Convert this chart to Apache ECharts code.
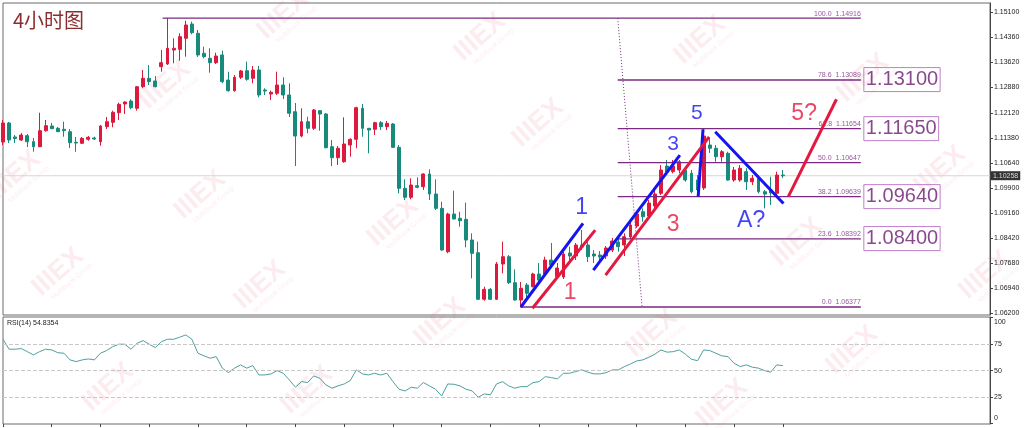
<!DOCTYPE html>
<html><head><meta charset="utf-8">
<script src="https://cdn.jsdelivr.net/npm/echarts@6/dist/echarts.min.js"></script>
<style>html,body{margin:0;padding:0;background:#fff}#c{width:1024px;height:428px}</style>
</head><body><div id="c"></div>
<script>
const opens = [
1.11256,1.11818,1.11404,1.11315,1.11442,1.11265,1.11117,1.11590,1.11729,1.11661,
1.11632,1.11561,1.11247,1.11218,1.11336,1.11374,1.11265,1.11709,1.11839,1.12122,
1.12380,1.12468,1.12253,1.12891,1.13140,1.13060,1.13483,1.13563,1.13976,1.13997,
1.14322,1.14745,1.14470,1.13879,1.13731,1.13601,1.13829,1.13089,1.12773,1.13169,
1.13364,1.13140,1.13385,1.12794,1.12675,1.12696,1.12942,1.12646,1.12152,1.11433,
1.11856,1.11661,1.12182,1.12084,1.11117,1.10792,1.10673,1.11167,1.11336,1.12253,
1.11661,1.11632,1.11827,1.11709,1.11788,1.11099,1.09887,1.09621,1.09964,1.09934,
1.10310,1.09718,1.09295,1.08012,1.09127,1.09000,1.08970,1.08358,1.07983,1.06605,
1.06900,1.06605,1.07649,1.07864,1.07096,1.06584,1.07028,1.06977,1.07353,1.07353,
1.07767,1.07273,1.07264,1.07974,1.07885,1.08210,1.08210,1.07944,1.07915,1.07885,
1.08062,1.08299,1.08210,1.08447,1.08772,1.09195,1.09068,1.09364,1.09739,1.10546,
1.10378,1.10428,1.10428,1.10330,1.10132,1.09896,1.11167,1.11070,1.10821,1.10922,
1.10132,1.10132,1.10378,1.10082,1.10183,1.09786,1.09837,1.09739,1.10280];
const closes = [
1.11818,1.11315,1.11360,1.11463,1.11265,1.11117,1.11590,1.11738,1.11649,1.11561,
1.11590,1.11235,1.11226,1.11365,1.11395,1.11345,1.11729,1.11856,1.12134,1.12371,
1.12439,1.12270,1.12891,1.13140,1.13039,1.12891,1.13601,1.14027,1.14027,1.14370,
1.14716,1.14488,1.13829,1.13778,1.13601,1.13799,1.13039,1.12773,1.13169,1.13356,
1.13110,1.13385,1.12646,1.12764,1.12726,1.12942,1.12646,1.12105,1.11433,1.11856,
1.11661,1.12202,1.12084,1.11087,1.10792,1.11070,1.11197,1.11336,1.12270,1.11661,
1.11611,1.11827,1.11709,1.11809,1.11099,1.09887,1.09621,1.09985,1.09917,1.10310,
1.09718,1.09295,1.08062,1.09127,1.08979,1.08929,1.08358,1.07965,1.06605,1.06900,
1.06605,1.07649,1.07864,1.07096,1.06584,1.06930,1.06782,1.07353,1.07175,1.07767,
1.07619,1.07530,1.07944,1.07885,1.08210,1.08151,1.07864,1.07885,1.07855,1.08122,
1.08329,1.08160,1.08456,1.08802,1.09127,1.09047,1.09452,1.09718,1.10428,1.10378,
1.10546,1.10673,1.10132,1.09786,1.09837,1.11433,1.11070,1.10821,1.10969,1.10132,
1.10428,1.10478,1.10082,1.10183,1.09786,1.09718,1.09748,1.10280,1.10258];
const lows = [
1.11167,1.11226,1.11226,1.11286,1.11108,1.10969,1.11108,1.11561,1.11640,1.11552,
1.11413,1.11079,1.10969,1.11197,1.11294,1.11315,1.11147,1.11640,1.11691,1.11907,
1.12084,1.12223,1.12182,1.12844,1.12942,1.12874,1.13335,1.13533,1.13583,1.13660,
1.13778,1.14441,1.13770,1.13731,1.13305,1.13563,1.12992,1.12743,1.12743,1.13119,
1.13069,1.12992,1.12578,1.12646,1.12498,1.12646,1.12528,1.11995,1.10546,1.11395,
1.11513,1.11611,1.11590,1.11070,1.10546,1.10576,1.10644,1.10821,1.11070,1.11413,
1.10922,1.11463,1.11611,1.11611,1.11079,1.09739,1.09541,1.09562,1.09887,1.09837,
1.09541,1.09245,1.08042,1.07965,1.08970,1.08751,1.08142,1.07226,1.06584,1.06563,
1.06584,1.06584,1.07373,1.07057,1.06563,1.06377,1.06643,1.06960,1.07087,1.07294,
1.07560,1.07235,1.07205,1.07767,1.07767,1.08062,1.07708,1.07678,1.07767,1.07796,
1.08003,1.08012,1.07885,1.08388,1.08713,1.08899,1.09009,1.09304,1.09689,1.10330,
1.10330,1.10330,1.10082,1.09739,1.09639,1.09837,1.10930,1.10673,1.10673,1.10112,
1.10082,1.10082,1.09837,1.09985,1.09739,1.09295,1.09393,1.09689,1.10192];
const highs = [
1.11907,1.11848,1.11463,1.11522,1.11493,1.11374,1.12122,1.11907,1.11818,1.11700,
1.11856,1.11640,1.11404,1.11404,1.11433,1.11413,1.11759,1.11995,1.12182,1.12418,
1.12460,1.12519,1.12912,1.13385,1.13533,1.13208,1.13976,1.14916,1.14322,1.14470,
1.14843,1.14813,1.14568,1.14074,1.14027,1.13897,1.13956,1.13335,1.13237,1.13385,
1.13631,1.13503,1.13503,1.12844,1.12773,1.13335,1.13169,1.12992,1.12409,1.12253,
1.12004,1.12232,1.12202,1.12114,1.11315,1.11138,1.11986,1.11365,1.12300,1.12380,
1.11670,1.11856,1.11877,1.11877,1.11818,1.11167,1.10153,1.10183,1.10212,1.10330,
1.10449,1.10153,1.09491,1.09165,1.09816,1.09195,1.09461,1.08556,1.08308,1.06977,
1.06939,1.07708,1.08308,1.07915,1.07492,1.07116,1.07087,1.07391,1.07678,1.07864,
1.08269,1.07678,1.08003,1.08160,1.08269,1.08654,1.08308,1.08062,1.08033,1.08181,
1.08417,1.08408,1.08556,1.08890,1.09216,1.09295,1.09541,1.09837,1.10576,1.10724,
1.10724,1.10724,1.10526,1.10428,1.10280,1.11661,1.11374,1.11167,1.11019,1.10969,
1.10517,1.10576,1.10478,1.10280,1.10280,1.09837,1.10230,1.10378,1.10428];
const rsiValues = [
79.7,70.3,70.3,70.9,68,64.9,68,70.3,69.6,67,
66.5,60.2,58.6,60.2,61.1,60.2,66.5,69,72.7,75,
75,70.3,75.9,78.4,75,71.8,77.4,79.7,79.7,81.6,
83.8,79.7,66.5,64,61.8,63.3,52.4,48.2,52.4,55.5,
52.4,54.8,46,46,47,50.1,47.6,41.3,34.4,39.7,
38.8,45.1,42.9,36.6,33.5,35.7,37.5,40.7,50.8,47,
46,47.6,46,47.6,39.7,32.5,30.9,34.4,33.5,38.8,
35.7,32.5,26.2,37.5,37.2,35.7,32.5,30.9,25,28.1,
27.2,37.5,39.7,35.7,33.5,35,35,38.8,39.7,44.4,
43.5,42.3,47.6,47.6,49.2,50.8,48.6,47,47,48.2,
50.8,50.8,53.9,56.4,59.2,60.2,62.7,65.6,69.6,67.5,
68,69.6,65.6,60.8,59.5,69.6,69,66.5,64,63.3,
57,53.9,55.5,53.3,52.4,50.1,48.6,55.5,54.8];

const yTickValues = [1.062,1.0694,1.0768,1.0842,1.0916,1.099,1.1064,1.1138,1.1212,1.1288,1.1362,1.1436,1.151];
const rsiTickValues = [0,25,50,75,100];
const rsiGuideValues = [25,50,75];
const xTickValues = [0,8,16,24,32,40,48,56,64,72,80,88,96,104,112,120,128];

const fibLevels = [0,23.6,38.2,50,61.8,78.6,100];
const fibPrices = [1.06377,1.08392,1.09639,1.10647,1.11654,1.13089,1.14916];
const fibStart = [84.9,100.9,100.9,100.9,100.9,100.9,26.2];
const fibEnd = 140.8;
const fibTrend = [[100.9,1.14916],[104.9,1.06377]];
const targetBoxes = [1.1310,1.1165,1.0964,1.0840];
const targetBoxX = 141.3;

const blueLines = [
  [[85,1.06377],[95.2,1.0885]],
  [[96.9,1.0747],[111.1,1.1087]],
  [[114.1,1.09639],[114.9,1.1163]],
  [[116.9,1.1156],[128.1,1.0944]]
];
const redLines = [
  [[86.9,1.0634],[97.2,1.0865]],
  [[98.9,1.0732],[115.9,1.1141]],
  [[128.9,1.09639],[136.8,1.1252]]
];
const blueLabels = [['1',95,1.0931,23],['3',110,1.1120,21],['5',113.9,1.1211,21],['A?',122.8,1.0892,23]];
const redLabels = [['1',93.1,1.0679,23],['3',110,1.0880,23],['5?',131.5,1.1208,23]];
const lastPrice = 1.10258;
const rsiLast = 54.8354;
const xMax = 162;

const BLUE = '#1414f0', RED = '#e3193f', PURPLE = '#7a2a82';
const FONT = 'Liberation Sans';

const candleData = opens.map((o,i)=>[i,o,closes[i],lows[i],highs[i]]);
const rsiData = rsiValues.map((v,i)=>[i,v]);

const series = [];
// bid line
series.push({type:'line',xAxisIndex:0,yAxisIndex:0,symbol:'none',silent:true,z:2,
  data:[[0,lastPrice],[xMax,lastPrice]],lineStyle:{color:'#d6d6d6',width:1}});
series.push({
  type:'candlestick', xAxisIndex:0, yAxisIndex:0, data:candleData,
  encode:{x:0,y:[1,2,3,4]}, barWidth:3.4, z:3,
  itemStyle:{color:'#dc1a3e',color0:'#178a7c',borderColor:'#dc1a3e',borderColor0:'#178a7c',borderWidth:1}
});
// price tag
series.push({type:'scatter',xAxisIndex:0,yAxisIndex:0,symbolSize:0.1,silent:true,z:20,
  itemStyle:{color:'transparent'},
  data:[{name:lastPrice.toFixed(5),value:[xMax,lastPrice]}],
  label:{show:true,formatter:'{b}',position:[1,0],align:'left',verticalAlign:'middle',
    backgroundColor:'#000',color:'#fff',fontSize:7,fontFamily:FONT,padding:[1,2,1,2]}});
series.push({
  type:'line', xAxisIndex:1, yAxisIndex:1, data:rsiData, symbol:'none',
  lineStyle:{color:'#4f9f9f',width:1}, z:3,
  markLine:{silent:true,symbol:'none',animation:false,label:{show:false},
    lineStyle:{color:'#c8c8c8',type:'dashed',width:1},
    data:rsiGuideValues.map(v=>({yAxis:v}))}
});
fibPrices.forEach((p,i)=>{
  series.push({type:'line',xAxisIndex:0,yAxisIndex:0,symbol:'none',silent:true,z:4,
    data:[[fibStart[i],p],[fibEnd,p]],lineStyle:{color:PURPLE,width:1.3}});
});
series.push({type:'line',xAxisIndex:0,yAxisIndex:0,symbol:'none',silent:true,z:4,
  data:fibTrend,lineStyle:{color:PURPLE,width:1,type:[1,2]}});
series.push({type:'scatter',xAxisIndex:0,yAxisIndex:0,symbolSize:0.1,silent:true,z:6,
  itemStyle:{color:'transparent'},
  data:fibPrices.map((p,i)=>({name:fibLevels[i].toFixed(1)+'  '+p.toFixed(5),value:[fibEnd,p]})),
  label:{show:true,formatter:'{b}',position:[0,-1],align:'right',verticalAlign:'bottom',
    fontSize:7,fontFamily:FONT,color:PURPLE}});
series.push({type:'scatter',xAxisIndex:0,yAxisIndex:0,symbolSize:0.1,silent:true,z:6,
  itemStyle:{color:'transparent'},
  data:targetBoxes.map(p=>({name:p.toFixed(5),value:[targetBoxX,p]})),
  label:{show:true,formatter:'{b}',position:[0,0],align:'left',verticalAlign:'middle',
    fontSize:20,fontFamily:FONT,color:'#6a1a70',borderColor:'#b060c0',borderWidth:1,
    padding:[2,2,1,2],lineHeight:21}});
blueLines.forEach(seg=>series.push({type:'line',xAxisIndex:0,yAxisIndex:0,symbol:'none',silent:true,z:8,
  data:seg,lineStyle:{color:BLUE,width:3}}));
redLines.forEach(seg=>series.push({type:'line',xAxisIndex:0,yAxisIndex:0,symbol:'none',silent:true,z:8,
  data:seg,lineStyle:{color:RED,width:3}}));
[[blueLabels,BLUE],[redLabels,RED]].forEach(([arr,col])=>{
  arr.forEach(l=>series.push({type:'scatter',xAxisIndex:0,yAxisIndex:0,symbolSize:0.1,silent:true,z:9,
    itemStyle:{color:'transparent'},
    data:[{name:l[0],value:[l[1],l[2]]}],
    label:{show:true,formatter:'{b}',position:[0,0],align:'center',verticalAlign:'middle',
      fontSize:l[3],fontFamily:FONT,color:col}}));
});

// faint watermark logos (decoration)
const wmSpots = [[480,37],[538,123],[283,15],[200,195],[15,175],[58,272],[260,285],[393,222],
  [940,170],[797,242],[985,275],[863,78],[700,40],[108,387],[307,390],[652,333],[722,403],[852,350],[440,322],[165,85]];
const wmGraphics = wmSpots.map(([x,y])=>({type:'group',x:x,y:y,rotation:0.72,z:1,silent:true,children:[
  {type:'text',style:{text:'IIIEX',x:0,y:0,align:'center',verticalAlign:'middle',fontSize:27,fontWeight:'bold',
    fontFamily:FONT,fill:'rgba(238,110,130,0.13)'}},
  {type:'text',style:{text:'MultiBank Group',x:4,y:16,align:'center',verticalAlign:'middle',fontSize:7,
    fontFamily:FONT,fill:'rgba(238,110,130,0.13)'}}
]}));

const chart = echarts.init(document.getElementById('c'),null,{renderer:'canvas'});
chart.setOption({
  animation:false,
  backgroundColor:'#fff',
  grid:[
    {left:3,right:34,top:3,height:312,show:true,borderColor:'#6a6a6a',borderWidth:1},
    {left:3,right:34,top:317,height:107,show:true,borderColor:'#6a6a6a',borderWidth:1}
  ],
  xAxis:[
    {type:'value',gridIndex:0,min:0,max:xMax,show:false,axisLine:{onZero:false}},
    {type:'value',gridIndex:1,min:0,max:xMax,
      axisLine:{show:false,onZero:false},splitLine:{show:false},
      axisTick:{show:true,length:3,customValues:xTickValues,lineStyle:{color:'#444'}},
      axisLabel:{show:false}}
  ],
  yAxis:[
    {type:'value',gridIndex:0,position:'right',min:1.06141,max:1.15366,
      axisLine:{show:true,onZero:false,lineStyle:{color:'#444'}},splitLine:{show:false},
      axisTick:{show:true,length:3,customValues:yTickValues,lineStyle:{color:'#444'}},
      axisLabel:{customValues:yTickValues,formatter:v=>v.toFixed(5),fontSize:7,fontFamily:FONT,color:'#222',margin:4}},
    {type:'value',gridIndex:1,position:'right',min:-0.3,max:100.7,
      axisLine:{show:true,onZero:false,lineStyle:{color:'#444'}},splitLine:{show:false},
      axisTick:{show:true,length:3,customValues:rsiTickValues,lineStyle:{color:'#444'}},
      axisLabel:{customValues:rsiTickValues,fontSize:7,fontFamily:FONT,color:'#222',margin:4,
        formatter:v=>v===100?'{t|100}':(v===0?'{b|0}':String(v)),
        rich:{t:{padding:[8,0,0,0],fontSize:7,fontFamily:FONT,color:'#222'},
              b:{padding:[0,0,11,0],fontSize:7,fontFamily:FONT,color:'#222'}}}}
  ],
  graphic:wmGraphics.concat([
    {type:'text',left:13,top:10,z:20,style:{text:'4小时图',fontSize:20,fontFamily:'Noto Sans CJK SC',fill:'#8b2d2d'}},
    {type:'text',left:7,top:320,z:20,style:{text:'RSI(14) '+rsiLast.toFixed(4),fontSize:7,fontFamily:FONT,fill:'#222'}}
  ]),
  series:series
});
</script></body></html>
